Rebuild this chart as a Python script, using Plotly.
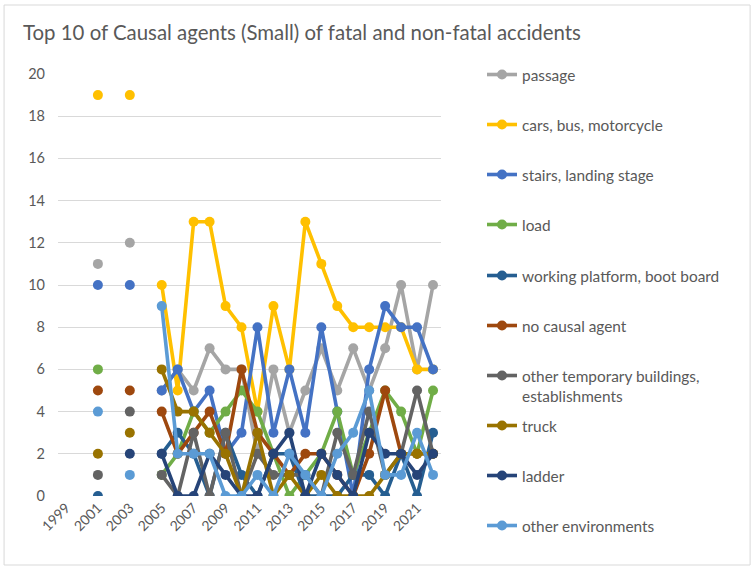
import plotly.graph_objects as go

years = [2001, 2002, 2003, 2004] + list(range(2005, 2023))
N = None

series_names = [
    "passage",
    "cars, bus, motorcycle",
    "stairs, landing stage",
    "load",
    "working platform, boot board",
    "no causal agent",
    "other temporary buildings,<br>establishments",
    "truck",
    "ladder",
    "other environments",
]

passage = [11, N, 12, N, 5, 6, 5, 7, 6, 6, 2, 6, 3, 5, 7, 5, 7, 5, 7, 10, 6, 10]
cars = [19, N, 19, N, 10, 5, 13, 13, 9, 8, 4, 9, 6, 13, 11, 9, 8, 8, 8, 8, 6, 6]
stairs = [10, N, 10, N, 5, 6, 4, 5, 2, 3, 8, 3, 6, 3, 8, 4, 0, 6, 9, 8, 8, 6]
load = [6, N, N, N, 1, 2, 4, 3, 4, 5, 4, 2, 0, 1, 2, 4, 1, 3, 5, 4, 2, 5]
platform = [0, N, N, N, 2, 3, 2, 0, 3, 1, 0, 2, 2, 0, 0, 0, 1, 1, 0, 2, 0, 3]
no_agent = [5, N, 5, N, 4, 2, 3, 4, 2, 6, 3, 2, 1, 2, 2, 1, 0, 2, 5, 2, 2, 2]
other_temp = [1, N, 4, N, 1, 0, 3, 0, 3, 0, 2, 1, 1, 1, 0, 3, 1, 4, 1, 2, 5, 2]
truck = [2, N, 3, N, 6, 4, 4, 3, 2, 0, 3, 0, 1, 0, 1, 0, 0, 0, 1, 2, 2, 2]
ladder = [N, N, 2, N, 2, 0, 0, 2, 1, 0, 0, 2, 3, 0, 2, 1, 0, 3, 2, 2, 1, 2]
other_env = [4, N, 1, N, 9, 2, 2, 2, 0, 0, 1, 0, 2, 1, 0, 2, 3, 5, 1, 1, 3, 1]

values = [passage, cars, stairs, load, platform, no_agent, other_temp, truck, ladder, other_env]
colors = ["#A5A5A5", "#FFC000", "#4472C4", "#70AD47", "#255E91",
          "#9E480E", "#636363", "#997300", "#264478", "#5B9BD5"]

x_ticks = list(range(1999, 2022, 2))

W, H = 755, 569
L, R, T, B = 58, 441.5, 74, 496
FONT = "Lato"
TXT = "#595959"

fig = go.Figure()
legend_centers = [75, 125, 175, 225, 276, 326, 386, 426, 476, 526]
layout_legends = {}
for i, (name, vals, col) in enumerate(zip(series_names, values, colors)):
    lname = "legend" if i == 0 else f"legend{i+1}"
    fig.add_trace(go.Scatter(
        x=years, y=vals, name=name, mode="lines+markers",
        line=dict(color=col, width=3.6),
        marker=dict(color=col, size=10),
        connectgaps=False, legend=lname,
    ))
    layout_legends[lname] = dict(
        x=482 / W, xref="container", y=1 - legend_centers[i] / H, yref="container",
        xanchor="left", yanchor="middle", valign="top",
        font=dict(family=FONT, size=15.4, color=TXT),
        bgcolor="rgba(0,0,0,0)", borderwidth=0,
    )

fig.update_layout(
    width=W, height=H,
    margin=dict(l=L, r=W - R, t=T, b=H - B, pad=0),
    paper_bgcolor="white", plot_bgcolor="white",
    title=dict(text="Top 10 of Causal agents (Small) of fatal and non-fatal accidents",
               x=23 / W, xanchor="left", xref="container",
               y=1 - 33 / H, yanchor="middle", yref="container",
               font=dict(family=FONT, size=20.4, color=TXT)),
    showlegend=True,
    xaxis=dict(range=[1998.5, 2022.5], tickmode="array", tickvals=x_ticks,
               ticktext=[str(v) for v in x_ticks], tickangle=-45,
               showgrid=False, zeroline=False, showline=False, ticks="",
               tickfont=dict(family=FONT, size=14, color=TXT)),
    yaxis=dict(range=[0, 20], dtick=2, showgrid=True, gridcolor="#D9D9D9", gridwidth=1,
               zeroline=False, showline=False, ticks="", ticklabelstandoff=12,
               tickfont=dict(family=FONT, size=14.5, color=TXT)),
    **layout_legends,
)

pw, ph = R - L, B - T
def px2paper_x(px):
    return (px - L) / pw
def px2paper_y(py):
    return (B - py) / ph

fig.add_shape(type="rect", xref="paper", yref="paper",
              x0=px2paper_x(4), x1=px2paper_x(751), y0=px2paper_y(565), y1=px2paper_y(5),
              line=dict(color="#D9D9D9", width=1), fillcolor="rgba(0,0,0,0)", layer="below")

fig.write_html("out.html", config={"displayModeBar": False},
               post_script="document.body.style.margin='0px';document.body.style.overflow='hidden';")
